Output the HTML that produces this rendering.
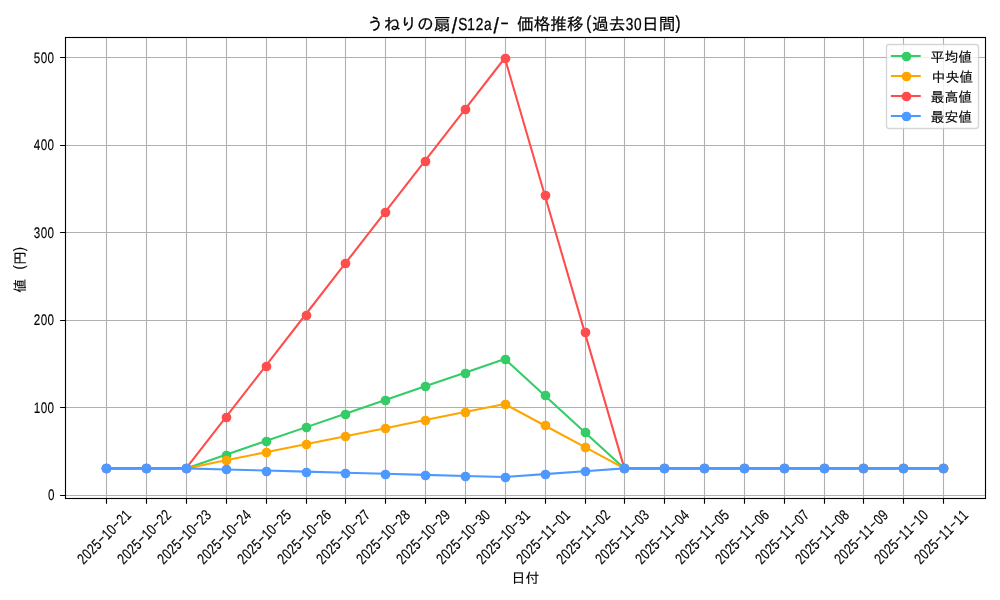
<!DOCTYPE html>
<html lang="ja"><head><meta charset="utf-8"><title>うねりの扇/S12a/- 価格推移</title>
<style>html,body{margin:0;padding:0;background:#fff;overflow:hidden}svg{display:block}text{font-family:"Liberation Sans", "IPAGothic", sans-serif;fill:#000;white-space:pre}.c{stroke:#000;stroke-width:.12px}.t .c{stroke-width:.25px}.l{stroke:#000;stroke-width:.12px}.t .l{stroke-width:.3px}</style></head><body>
<svg width="1000" height="600" viewBox="0 0 1000 600">
<rect width="1000" height="600" fill="#fff"/>
<path d="M106.5 37.5V498.5M146.5 37.5V498.5M186.5 37.5V498.5M226.5 37.5V498.5M266.5 37.5V498.5M306.5 37.5V498.5M345.5 37.5V498.5M385.5 37.5V498.5M425.5 37.5V498.5M465.5 37.5V498.5M505.5 37.5V498.5M545.5 37.5V498.5M585.5 37.5V498.5M624.5 37.5V498.5M664.5 37.5V498.5M704.5 37.5V498.5M744.5 37.5V498.5M784.5 37.5V498.5M824.5 37.5V498.5M863.5 37.5V498.5M903.5 37.5V498.5M943.5 37.5V498.5M65.5 57.5H985.5M65.5 145.5H985.5M65.5 232.5H985.5M65.5 320.5H985.5M65.5 407.5H985.5M65.5 495.5H985.5" fill="none" stroke="#b0b0b0" stroke-width="1.11"/>
<path d="M106.5 499.0v4.86M146.5 499.0v4.86M186.5 499.0v4.86M226.5 499.0v4.86M266.5 499.0v4.86M306.5 499.0v4.86M345.5 499.0v4.86M385.5 499.0v4.86M425.5 499.0v4.86M465.5 499.0v4.86M505.5 499.0v4.86M545.5 499.0v4.86M585.5 499.0v4.86M624.5 499.0v4.86M664.5 499.0v4.86M704.5 499.0v4.86M744.5 499.0v4.86M784.5 499.0v4.86M824.5 499.0v4.86M863.5 499.0v4.86M903.5 499.0v4.86M943.5 499.0v4.86M65.0 57.5h-4.86M65.0 145.5h-4.86M65.0 232.5h-4.86M65.0 320.5h-4.86M65.0 407.5h-4.86M65.0 495.5h-4.86" fill="none" stroke="#000" stroke-width="1.11"/>
<g fill="#33cc66" stroke="#33cc66">
<polyline points="106.38,468.40 146.23,468.40 186.07,468.40 225.92,454.72 265.76,441.05 305.61,427.38 345.45,413.70 385.30,400.02 425.14,386.35 464.99,372.68 504.84,359.00 544.68,395.47 584.53,431.93 624.37,468.40 664.22,468.40 704.06,468.40 743.91,468.40 783.76,468.40 823.60,468.40 863.45,468.40 903.29,468.40 943.14,468.40" fill="none" stroke-width="2.08" stroke-linejoin="round" stroke-linecap="square"/>
<circle cx="106.5" cy="468.5" r="4.17" stroke-width="1.39"/>
<circle cx="146.5" cy="468.5" r="4.17" stroke-width="1.39"/>
<circle cx="186.5" cy="468.5" r="4.17" stroke-width="1.39"/>
<circle cx="226.5" cy="455.5" r="4.17" stroke-width="1.39"/>
<circle cx="266.5" cy="441.5" r="4.17" stroke-width="1.39"/>
<circle cx="306.5" cy="427.5" r="4.17" stroke-width="1.39"/>
<circle cx="345.5" cy="414.5" r="4.17" stroke-width="1.39"/>
<circle cx="385.5" cy="400.5" r="4.17" stroke-width="1.39"/>
<circle cx="425.5" cy="386.5" r="4.17" stroke-width="1.39"/>
<circle cx="465.5" cy="373.5" r="4.17" stroke-width="1.39"/>
<circle cx="505.5" cy="359.5" r="4.17" stroke-width="1.39"/>
<circle cx="545.5" cy="395.5" r="4.17" stroke-width="1.39"/>
<circle cx="585.5" cy="432.5" r="4.17" stroke-width="1.39"/>
<circle cx="624.5" cy="468.5" r="4.17" stroke-width="1.39"/>
<circle cx="664.5" cy="468.5" r="4.17" stroke-width="1.39"/>
<circle cx="704.5" cy="468.5" r="4.17" stroke-width="1.39"/>
<circle cx="744.5" cy="468.5" r="4.17" stroke-width="1.39"/>
<circle cx="784.5" cy="468.5" r="4.17" stroke-width="1.39"/>
<circle cx="824.5" cy="468.5" r="4.17" stroke-width="1.39"/>
<circle cx="863.5" cy="468.5" r="4.17" stroke-width="1.39"/>
<circle cx="903.5" cy="468.5" r="4.17" stroke-width="1.39"/>
<circle cx="943.5" cy="468.5" r="4.17" stroke-width="1.39"/>
</g>
<g fill="#ffa500" stroke="#ffa500">
<polyline points="106.38,468.40 146.23,468.40 186.07,468.40 225.92,460.35 265.76,452.30 305.61,444.25 345.45,436.20 385.30,428.15 425.14,420.10 464.99,412.05 504.84,404.00 544.68,425.47 584.53,446.93 624.37,468.40 664.22,468.40 704.06,468.40 743.91,468.40 783.76,468.40 823.60,468.40 863.45,468.40 903.29,468.40 943.14,468.40" fill="none" stroke-width="2.08" stroke-linejoin="round" stroke-linecap="square"/>
<circle cx="106.5" cy="468.5" r="4.17" stroke-width="1.39"/>
<circle cx="146.5" cy="468.5" r="4.17" stroke-width="1.39"/>
<circle cx="186.5" cy="468.5" r="4.17" stroke-width="1.39"/>
<circle cx="226.5" cy="460.5" r="4.17" stroke-width="1.39"/>
<circle cx="266.5" cy="452.5" r="4.17" stroke-width="1.39"/>
<circle cx="306.5" cy="444.5" r="4.17" stroke-width="1.39"/>
<circle cx="345.5" cy="436.5" r="4.17" stroke-width="1.39"/>
<circle cx="385.5" cy="428.5" r="4.17" stroke-width="1.39"/>
<circle cx="425.5" cy="420.5" r="4.17" stroke-width="1.39"/>
<circle cx="465.5" cy="412.5" r="4.17" stroke-width="1.39"/>
<circle cx="505.5" cy="404.5" r="4.17" stroke-width="1.39"/>
<circle cx="545.5" cy="425.5" r="4.17" stroke-width="1.39"/>
<circle cx="585.5" cy="447.5" r="4.17" stroke-width="1.39"/>
<circle cx="624.5" cy="468.5" r="4.17" stroke-width="1.39"/>
<circle cx="664.5" cy="468.5" r="4.17" stroke-width="1.39"/>
<circle cx="704.5" cy="468.5" r="4.17" stroke-width="1.39"/>
<circle cx="744.5" cy="468.5" r="4.17" stroke-width="1.39"/>
<circle cx="784.5" cy="468.5" r="4.17" stroke-width="1.39"/>
<circle cx="824.5" cy="468.5" r="4.17" stroke-width="1.39"/>
<circle cx="863.5" cy="468.5" r="4.17" stroke-width="1.39"/>
<circle cx="903.5" cy="468.5" r="4.17" stroke-width="1.39"/>
<circle cx="943.5" cy="468.5" r="4.17" stroke-width="1.39"/>
</g>
<g fill="#ff4d4d" stroke="#ff4d4d">
<polyline points="106.38,468.40 146.23,468.40 186.07,468.40 225.92,417.10 265.76,365.80 305.61,314.50 345.45,263.20 385.30,211.90 425.14,160.60 464.99,109.30 504.84,58.00 544.68,194.80 584.53,331.60 624.37,468.40 664.22,468.40 704.06,468.40 743.91,468.40 783.76,468.40 823.60,468.40 863.45,468.40 903.29,468.40 943.14,468.40" fill="none" stroke-width="2.08" stroke-linejoin="round" stroke-linecap="square"/>
<circle cx="106.5" cy="468.5" r="4.17" stroke-width="1.39"/>
<circle cx="146.5" cy="468.5" r="4.17" stroke-width="1.39"/>
<circle cx="186.5" cy="468.5" r="4.17" stroke-width="1.39"/>
<circle cx="226.5" cy="417.5" r="4.17" stroke-width="1.39"/>
<circle cx="266.5" cy="366.5" r="4.17" stroke-width="1.39"/>
<circle cx="306.5" cy="315.5" r="4.17" stroke-width="1.39"/>
<circle cx="345.5" cy="263.5" r="4.17" stroke-width="1.39"/>
<circle cx="385.5" cy="212.5" r="4.17" stroke-width="1.39"/>
<circle cx="425.5" cy="161.5" r="4.17" stroke-width="1.39"/>
<circle cx="465.5" cy="109.5" r="4.17" stroke-width="1.39"/>
<circle cx="505.5" cy="58.5" r="4.17" stroke-width="1.39"/>
<circle cx="545.5" cy="195.5" r="4.17" stroke-width="1.39"/>
<circle cx="585.5" cy="332.5" r="4.17" stroke-width="1.39"/>
<circle cx="624.5" cy="468.5" r="4.17" stroke-width="1.39"/>
<circle cx="664.5" cy="468.5" r="4.17" stroke-width="1.39"/>
<circle cx="704.5" cy="468.5" r="4.17" stroke-width="1.39"/>
<circle cx="744.5" cy="468.5" r="4.17" stroke-width="1.39"/>
<circle cx="784.5" cy="468.5" r="4.17" stroke-width="1.39"/>
<circle cx="824.5" cy="468.5" r="4.17" stroke-width="1.39"/>
<circle cx="863.5" cy="468.5" r="4.17" stroke-width="1.39"/>
<circle cx="903.5" cy="468.5" r="4.17" stroke-width="1.39"/>
<circle cx="943.5" cy="468.5" r="4.17" stroke-width="1.39"/>
</g>
<g fill="#4d99ff" stroke="#4d99ff">
<polyline points="106.38,468.40 146.23,468.40 186.07,468.40 225.92,469.47 265.76,470.55 305.61,471.62 345.45,472.70 385.30,473.77 425.14,474.85 464.99,475.93 504.84,477.00 544.68,474.13 584.53,471.27 624.37,468.40 664.22,468.40 704.06,468.40 743.91,468.40 783.76,468.40 823.60,468.40 863.45,468.40 903.29,468.40 943.14,468.40" fill="none" stroke-width="2.08" stroke-linejoin="round" stroke-linecap="square"/>
<circle cx="106.5" cy="468.5" r="4.17" stroke-width="1.39"/>
<circle cx="146.5" cy="468.5" r="4.17" stroke-width="1.39"/>
<circle cx="186.5" cy="468.5" r="4.17" stroke-width="1.39"/>
<circle cx="226.5" cy="469.5" r="4.17" stroke-width="1.39"/>
<circle cx="266.5" cy="471.5" r="4.17" stroke-width="1.39"/>
<circle cx="306.5" cy="472.5" r="4.17" stroke-width="1.39"/>
<circle cx="345.5" cy="473.5" r="4.17" stroke-width="1.39"/>
<circle cx="385.5" cy="474.5" r="4.17" stroke-width="1.39"/>
<circle cx="425.5" cy="475.5" r="4.17" stroke-width="1.39"/>
<circle cx="465.5" cy="476.5" r="4.17" stroke-width="1.39"/>
<circle cx="505.5" cy="477.5" r="4.17" stroke-width="1.39"/>
<circle cx="545.5" cy="474.5" r="4.17" stroke-width="1.39"/>
<circle cx="585.5" cy="471.5" r="4.17" stroke-width="1.39"/>
<circle cx="624.5" cy="468.5" r="4.17" stroke-width="1.39"/>
<circle cx="664.5" cy="468.5" r="4.17" stroke-width="1.39"/>
<circle cx="704.5" cy="468.5" r="4.17" stroke-width="1.39"/>
<circle cx="744.5" cy="468.5" r="4.17" stroke-width="1.39"/>
<circle cx="784.5" cy="468.5" r="4.17" stroke-width="1.39"/>
<circle cx="824.5" cy="468.5" r="4.17" stroke-width="1.39"/>
<circle cx="863.5" cy="468.5" r="4.17" stroke-width="1.39"/>
<circle cx="903.5" cy="468.5" r="4.17" stroke-width="1.39"/>
<circle cx="943.5" cy="468.5" r="4.17" stroke-width="1.39"/>
</g>
<rect x="65.5" y="37.5" width="920.0" height="461.0" fill="none" stroke="#000" stroke-width="1.11"/>
<text class="l" text-anchor="middle" font-size="13.889" transform="translate(33.47 62.80) rotate(0.03) scale(0.840 1.100)" x="4.13 12.40 20.67">500</text>
<text class="l" text-anchor="middle" font-size="13.889" transform="translate(33.47 149.80) rotate(0.03) scale(0.840 1.100)" x="4.13 12.40 20.67">400</text>
<text class="l" text-anchor="middle" font-size="13.889" transform="translate(33.47 237.80) rotate(0.03) scale(0.840 1.100)" x="4.13 12.40 20.67">300</text>
<text class="l" text-anchor="middle" font-size="13.889" transform="translate(33.47 324.80) rotate(0.03) scale(0.840 1.100)" x="4.13 12.40 20.67">200</text>
<text class="l" text-anchor="middle" font-size="13.889" transform="translate(33.47 412.80) rotate(0.03) scale(0.840 1.100)" x="4.13 12.40 20.67">100</text>
<text class="l" text-anchor="middle" font-size="13.889" transform="translate(47.86 499.80) rotate(0.03) scale(0.840 1.100)" x="4.13">0</text>
<g transform="translate(104.1 536.8) rotate(-45)"><text class="l" text-anchor="middle" font-size="13.889" transform="translate(-34.72 5.20) rotate(0.03) scale(0.840 1.100)" x="4.13 12.40 20.67 28.94">2025</text><text class="l" text-anchor="middle" font-size="13.889" transform="translate(-6.94 3.26) rotate(0.03) scale(1.596 1.000)" x="2.18">-</text><text class="l" text-anchor="middle" font-size="13.889" transform="translate(-0.00 5.20) rotate(0.03) scale(0.840 1.100)" x="4.13 12.40">10</text><text class="l" text-anchor="middle" font-size="13.889" transform="translate(13.89 3.26) rotate(0.03) scale(1.596 1.000)" x="2.18">-</text><text class="l" text-anchor="middle" font-size="13.889" transform="translate(20.83 5.20) rotate(0.03) scale(0.840 1.100)" x="4.13 12.40">21</text></g>
<g transform="translate(144.1 536.8) rotate(-45)"><text class="l" text-anchor="middle" font-size="13.889" transform="translate(-34.72 5.20) rotate(0.03) scale(0.840 1.100)" x="4.13 12.40 20.67 28.94">2025</text><text class="l" text-anchor="middle" font-size="13.889" transform="translate(-6.94 3.26) rotate(0.03) scale(1.596 1.000)" x="2.18">-</text><text class="l" text-anchor="middle" font-size="13.889" transform="translate(-0.00 5.20) rotate(0.03) scale(0.840 1.100)" x="4.13 12.40">10</text><text class="l" text-anchor="middle" font-size="13.889" transform="translate(13.89 3.26) rotate(0.03) scale(1.596 1.000)" x="2.18">-</text><text class="l" text-anchor="middle" font-size="13.889" transform="translate(20.83 5.20) rotate(0.03) scale(0.840 1.100)" x="4.13 12.40">22</text></g>
<g transform="translate(184.1 536.8) rotate(-45)"><text class="l" text-anchor="middle" font-size="13.889" transform="translate(-34.72 5.20) rotate(0.03) scale(0.840 1.100)" x="4.13 12.40 20.67 28.94">2025</text><text class="l" text-anchor="middle" font-size="13.889" transform="translate(-6.94 3.26) rotate(0.03) scale(1.596 1.000)" x="2.18">-</text><text class="l" text-anchor="middle" font-size="13.889" transform="translate(-0.00 5.20) rotate(0.03) scale(0.840 1.100)" x="4.13 12.40">10</text><text class="l" text-anchor="middle" font-size="13.889" transform="translate(13.89 3.26) rotate(0.03) scale(1.596 1.000)" x="2.18">-</text><text class="l" text-anchor="middle" font-size="13.889" transform="translate(20.83 5.20) rotate(0.03) scale(0.840 1.100)" x="4.13 12.40">23</text></g>
<g transform="translate(224.1 536.8) rotate(-45)"><text class="l" text-anchor="middle" font-size="13.889" transform="translate(-34.72 5.20) rotate(0.03) scale(0.840 1.100)" x="4.13 12.40 20.67 28.94">2025</text><text class="l" text-anchor="middle" font-size="13.889" transform="translate(-6.94 3.26) rotate(0.03) scale(1.596 1.000)" x="2.18">-</text><text class="l" text-anchor="middle" font-size="13.889" transform="translate(-0.00 5.20) rotate(0.03) scale(0.840 1.100)" x="4.13 12.40">10</text><text class="l" text-anchor="middle" font-size="13.889" transform="translate(13.89 3.26) rotate(0.03) scale(1.596 1.000)" x="2.18">-</text><text class="l" text-anchor="middle" font-size="13.889" transform="translate(20.83 5.20) rotate(0.03) scale(0.840 1.100)" x="4.13 12.40">24</text></g>
<g transform="translate(264.1 536.8) rotate(-45)"><text class="l" text-anchor="middle" font-size="13.889" transform="translate(-34.72 5.20) rotate(0.03) scale(0.840 1.100)" x="4.13 12.40 20.67 28.94">2025</text><text class="l" text-anchor="middle" font-size="13.889" transform="translate(-6.94 3.26) rotate(0.03) scale(1.596 1.000)" x="2.18">-</text><text class="l" text-anchor="middle" font-size="13.889" transform="translate(-0.00 5.20) rotate(0.03) scale(0.840 1.100)" x="4.13 12.40">10</text><text class="l" text-anchor="middle" font-size="13.889" transform="translate(13.89 3.26) rotate(0.03) scale(1.596 1.000)" x="2.18">-</text><text class="l" text-anchor="middle" font-size="13.889" transform="translate(20.83 5.20) rotate(0.03) scale(0.840 1.100)" x="4.13 12.40">25</text></g>
<g transform="translate(304.1 536.8) rotate(-45)"><text class="l" text-anchor="middle" font-size="13.889" transform="translate(-34.72 5.20) rotate(0.03) scale(0.840 1.100)" x="4.13 12.40 20.67 28.94">2025</text><text class="l" text-anchor="middle" font-size="13.889" transform="translate(-6.94 3.26) rotate(0.03) scale(1.596 1.000)" x="2.18">-</text><text class="l" text-anchor="middle" font-size="13.889" transform="translate(-0.00 5.20) rotate(0.03) scale(0.840 1.100)" x="4.13 12.40">10</text><text class="l" text-anchor="middle" font-size="13.889" transform="translate(13.89 3.26) rotate(0.03) scale(1.596 1.000)" x="2.18">-</text><text class="l" text-anchor="middle" font-size="13.889" transform="translate(20.83 5.20) rotate(0.03) scale(0.840 1.100)" x="4.13 12.40">26</text></g>
<g transform="translate(343.1 536.8) rotate(-45)"><text class="l" text-anchor="middle" font-size="13.889" transform="translate(-34.72 5.20) rotate(0.03) scale(0.840 1.100)" x="4.13 12.40 20.67 28.94">2025</text><text class="l" text-anchor="middle" font-size="13.889" transform="translate(-6.94 3.26) rotate(0.03) scale(1.596 1.000)" x="2.18">-</text><text class="l" text-anchor="middle" font-size="13.889" transform="translate(-0.00 5.20) rotate(0.03) scale(0.840 1.100)" x="4.13 12.40">10</text><text class="l" text-anchor="middle" font-size="13.889" transform="translate(13.89 3.26) rotate(0.03) scale(1.596 1.000)" x="2.18">-</text><text class="l" text-anchor="middle" font-size="13.889" transform="translate(20.83 5.20) rotate(0.03) scale(0.840 1.100)" x="4.13 12.40">27</text></g>
<g transform="translate(383.1 536.8) rotate(-45)"><text class="l" text-anchor="middle" font-size="13.889" transform="translate(-34.72 5.20) rotate(0.03) scale(0.840 1.100)" x="4.13 12.40 20.67 28.94">2025</text><text class="l" text-anchor="middle" font-size="13.889" transform="translate(-6.94 3.26) rotate(0.03) scale(1.596 1.000)" x="2.18">-</text><text class="l" text-anchor="middle" font-size="13.889" transform="translate(-0.00 5.20) rotate(0.03) scale(0.840 1.100)" x="4.13 12.40">10</text><text class="l" text-anchor="middle" font-size="13.889" transform="translate(13.89 3.26) rotate(0.03) scale(1.596 1.000)" x="2.18">-</text><text class="l" text-anchor="middle" font-size="13.889" transform="translate(20.83 5.20) rotate(0.03) scale(0.840 1.100)" x="4.13 12.40">28</text></g>
<g transform="translate(423.1 536.8) rotate(-45)"><text class="l" text-anchor="middle" font-size="13.889" transform="translate(-34.72 5.20) rotate(0.03) scale(0.840 1.100)" x="4.13 12.40 20.67 28.94">2025</text><text class="l" text-anchor="middle" font-size="13.889" transform="translate(-6.94 3.26) rotate(0.03) scale(1.596 1.000)" x="2.18">-</text><text class="l" text-anchor="middle" font-size="13.889" transform="translate(-0.00 5.20) rotate(0.03) scale(0.840 1.100)" x="4.13 12.40">10</text><text class="l" text-anchor="middle" font-size="13.889" transform="translate(13.89 3.26) rotate(0.03) scale(1.596 1.000)" x="2.18">-</text><text class="l" text-anchor="middle" font-size="13.889" transform="translate(20.83 5.20) rotate(0.03) scale(0.840 1.100)" x="4.13 12.40">29</text></g>
<g transform="translate(463.1 536.8) rotate(-45)"><text class="l" text-anchor="middle" font-size="13.889" transform="translate(-34.72 5.20) rotate(0.03) scale(0.840 1.100)" x="4.13 12.40 20.67 28.94">2025</text><text class="l" text-anchor="middle" font-size="13.889" transform="translate(-6.94 3.26) rotate(0.03) scale(1.596 1.000)" x="2.18">-</text><text class="l" text-anchor="middle" font-size="13.889" transform="translate(-0.00 5.20) rotate(0.03) scale(0.840 1.100)" x="4.13 12.40">10</text><text class="l" text-anchor="middle" font-size="13.889" transform="translate(13.89 3.26) rotate(0.03) scale(1.596 1.000)" x="2.18">-</text><text class="l" text-anchor="middle" font-size="13.889" transform="translate(20.83 5.20) rotate(0.03) scale(0.840 1.100)" x="4.13 12.40">30</text></g>
<g transform="translate(503.1 536.8) rotate(-45)"><text class="l" text-anchor="middle" font-size="13.889" transform="translate(-34.72 5.20) rotate(0.03) scale(0.840 1.100)" x="4.13 12.40 20.67 28.94">2025</text><text class="l" text-anchor="middle" font-size="13.889" transform="translate(-6.94 3.26) rotate(0.03) scale(1.596 1.000)" x="2.18">-</text><text class="l" text-anchor="middle" font-size="13.889" transform="translate(-0.00 5.20) rotate(0.03) scale(0.840 1.100)" x="4.13 12.40">10</text><text class="l" text-anchor="middle" font-size="13.889" transform="translate(13.89 3.26) rotate(0.03) scale(1.596 1.000)" x="2.18">-</text><text class="l" text-anchor="middle" font-size="13.889" transform="translate(20.83 5.20) rotate(0.03) scale(0.840 1.100)" x="4.13 12.40">31</text></g>
<g transform="translate(543.1 536.8) rotate(-45)"><text class="l" text-anchor="middle" font-size="13.889" transform="translate(-34.72 5.20) rotate(0.03) scale(0.840 1.100)" x="4.13 12.40 20.67 28.94">2025</text><text class="l" text-anchor="middle" font-size="13.889" transform="translate(-6.94 3.26) rotate(0.03) scale(1.596 1.000)" x="2.18">-</text><text class="l" text-anchor="middle" font-size="13.889" transform="translate(-0.00 5.20) rotate(0.03) scale(0.840 1.100)" x="4.13 12.40">11</text><text class="l" text-anchor="middle" font-size="13.889" transform="translate(13.89 3.26) rotate(0.03) scale(1.596 1.000)" x="2.18">-</text><text class="l" text-anchor="middle" font-size="13.889" transform="translate(20.83 5.20) rotate(0.03) scale(0.840 1.100)" x="4.13 12.40">01</text></g>
<g transform="translate(583.1 536.8) rotate(-45)"><text class="l" text-anchor="middle" font-size="13.889" transform="translate(-34.72 5.20) rotate(0.03) scale(0.840 1.100)" x="4.13 12.40 20.67 28.94">2025</text><text class="l" text-anchor="middle" font-size="13.889" transform="translate(-6.94 3.26) rotate(0.03) scale(1.596 1.000)" x="2.18">-</text><text class="l" text-anchor="middle" font-size="13.889" transform="translate(-0.00 5.20) rotate(0.03) scale(0.840 1.100)" x="4.13 12.40">11</text><text class="l" text-anchor="middle" font-size="13.889" transform="translate(13.89 3.26) rotate(0.03) scale(1.596 1.000)" x="2.18">-</text><text class="l" text-anchor="middle" font-size="13.889" transform="translate(20.83 5.20) rotate(0.03) scale(0.840 1.100)" x="4.13 12.40">02</text></g>
<g transform="translate(622.1 536.8) rotate(-45)"><text class="l" text-anchor="middle" font-size="13.889" transform="translate(-34.72 5.20) rotate(0.03) scale(0.840 1.100)" x="4.13 12.40 20.67 28.94">2025</text><text class="l" text-anchor="middle" font-size="13.889" transform="translate(-6.94 3.26) rotate(0.03) scale(1.596 1.000)" x="2.18">-</text><text class="l" text-anchor="middle" font-size="13.889" transform="translate(-0.00 5.20) rotate(0.03) scale(0.840 1.100)" x="4.13 12.40">11</text><text class="l" text-anchor="middle" font-size="13.889" transform="translate(13.89 3.26) rotate(0.03) scale(1.596 1.000)" x="2.18">-</text><text class="l" text-anchor="middle" font-size="13.889" transform="translate(20.83 5.20) rotate(0.03) scale(0.840 1.100)" x="4.13 12.40">03</text></g>
<g transform="translate(662.1 536.8) rotate(-45)"><text class="l" text-anchor="middle" font-size="13.889" transform="translate(-34.72 5.20) rotate(0.03) scale(0.840 1.100)" x="4.13 12.40 20.67 28.94">2025</text><text class="l" text-anchor="middle" font-size="13.889" transform="translate(-6.94 3.26) rotate(0.03) scale(1.596 1.000)" x="2.18">-</text><text class="l" text-anchor="middle" font-size="13.889" transform="translate(-0.00 5.20) rotate(0.03) scale(0.840 1.100)" x="4.13 12.40">11</text><text class="l" text-anchor="middle" font-size="13.889" transform="translate(13.89 3.26) rotate(0.03) scale(1.596 1.000)" x="2.18">-</text><text class="l" text-anchor="middle" font-size="13.889" transform="translate(20.83 5.20) rotate(0.03) scale(0.840 1.100)" x="4.13 12.40">04</text></g>
<g transform="translate(702.1 536.8) rotate(-45)"><text class="l" text-anchor="middle" font-size="13.889" transform="translate(-34.72 5.20) rotate(0.03) scale(0.840 1.100)" x="4.13 12.40 20.67 28.94">2025</text><text class="l" text-anchor="middle" font-size="13.889" transform="translate(-6.94 3.26) rotate(0.03) scale(1.596 1.000)" x="2.18">-</text><text class="l" text-anchor="middle" font-size="13.889" transform="translate(-0.00 5.20) rotate(0.03) scale(0.840 1.100)" x="4.13 12.40">11</text><text class="l" text-anchor="middle" font-size="13.889" transform="translate(13.89 3.26) rotate(0.03) scale(1.596 1.000)" x="2.18">-</text><text class="l" text-anchor="middle" font-size="13.889" transform="translate(20.83 5.20) rotate(0.03) scale(0.840 1.100)" x="4.13 12.40">05</text></g>
<g transform="translate(742.1 536.8) rotate(-45)"><text class="l" text-anchor="middle" font-size="13.889" transform="translate(-34.72 5.20) rotate(0.03) scale(0.840 1.100)" x="4.13 12.40 20.67 28.94">2025</text><text class="l" text-anchor="middle" font-size="13.889" transform="translate(-6.94 3.26) rotate(0.03) scale(1.596 1.000)" x="2.18">-</text><text class="l" text-anchor="middle" font-size="13.889" transform="translate(-0.00 5.20) rotate(0.03) scale(0.840 1.100)" x="4.13 12.40">11</text><text class="l" text-anchor="middle" font-size="13.889" transform="translate(13.89 3.26) rotate(0.03) scale(1.596 1.000)" x="2.18">-</text><text class="l" text-anchor="middle" font-size="13.889" transform="translate(20.83 5.20) rotate(0.03) scale(0.840 1.100)" x="4.13 12.40">06</text></g>
<g transform="translate(782.1 536.8) rotate(-45)"><text class="l" text-anchor="middle" font-size="13.889" transform="translate(-34.72 5.20) rotate(0.03) scale(0.840 1.100)" x="4.13 12.40 20.67 28.94">2025</text><text class="l" text-anchor="middle" font-size="13.889" transform="translate(-6.94 3.26) rotate(0.03) scale(1.596 1.000)" x="2.18">-</text><text class="l" text-anchor="middle" font-size="13.889" transform="translate(-0.00 5.20) rotate(0.03) scale(0.840 1.100)" x="4.13 12.40">11</text><text class="l" text-anchor="middle" font-size="13.889" transform="translate(13.89 3.26) rotate(0.03) scale(1.596 1.000)" x="2.18">-</text><text class="l" text-anchor="middle" font-size="13.889" transform="translate(20.83 5.20) rotate(0.03) scale(0.840 1.100)" x="4.13 12.40">07</text></g>
<g transform="translate(822.1 536.8) rotate(-45)"><text class="l" text-anchor="middle" font-size="13.889" transform="translate(-34.72 5.20) rotate(0.03) scale(0.840 1.100)" x="4.13 12.40 20.67 28.94">2025</text><text class="l" text-anchor="middle" font-size="13.889" transform="translate(-6.94 3.26) rotate(0.03) scale(1.596 1.000)" x="2.18">-</text><text class="l" text-anchor="middle" font-size="13.889" transform="translate(-0.00 5.20) rotate(0.03) scale(0.840 1.100)" x="4.13 12.40">11</text><text class="l" text-anchor="middle" font-size="13.889" transform="translate(13.89 3.26) rotate(0.03) scale(1.596 1.000)" x="2.18">-</text><text class="l" text-anchor="middle" font-size="13.889" transform="translate(20.83 5.20) rotate(0.03) scale(0.840 1.100)" x="4.13 12.40">08</text></g>
<g transform="translate(861.1 536.8) rotate(-45)"><text class="l" text-anchor="middle" font-size="13.889" transform="translate(-34.72 5.20) rotate(0.03) scale(0.840 1.100)" x="4.13 12.40 20.67 28.94">2025</text><text class="l" text-anchor="middle" font-size="13.889" transform="translate(-6.94 3.26) rotate(0.03) scale(1.596 1.000)" x="2.18">-</text><text class="l" text-anchor="middle" font-size="13.889" transform="translate(-0.00 5.20) rotate(0.03) scale(0.840 1.100)" x="4.13 12.40">11</text><text class="l" text-anchor="middle" font-size="13.889" transform="translate(13.89 3.26) rotate(0.03) scale(1.596 1.000)" x="2.18">-</text><text class="l" text-anchor="middle" font-size="13.889" transform="translate(20.83 5.20) rotate(0.03) scale(0.840 1.100)" x="4.13 12.40">09</text></g>
<g transform="translate(901.1 536.8) rotate(-45)"><text class="l" text-anchor="middle" font-size="13.889" transform="translate(-34.72 5.20) rotate(0.03) scale(0.840 1.100)" x="4.13 12.40 20.67 28.94">2025</text><text class="l" text-anchor="middle" font-size="13.889" transform="translate(-6.94 3.26) rotate(0.03) scale(1.596 1.000)" x="2.18">-</text><text class="l" text-anchor="middle" font-size="13.889" transform="translate(-0.00 5.20) rotate(0.03) scale(0.840 1.100)" x="4.13 12.40">11</text><text class="l" text-anchor="middle" font-size="13.889" transform="translate(13.89 3.26) rotate(0.03) scale(1.596 1.000)" x="2.18">-</text><text class="l" text-anchor="middle" font-size="13.889" transform="translate(20.83 5.20) rotate(0.03) scale(0.840 1.100)" x="4.13 12.40">10</text></g>
<g transform="translate(941.1 536.8) rotate(-45)"><text class="l" text-anchor="middle" font-size="13.889" transform="translate(-34.72 5.20) rotate(0.03) scale(0.840 1.100)" x="4.13 12.40 20.67 28.94">2025</text><text class="l" text-anchor="middle" font-size="13.889" transform="translate(-6.94 3.26) rotate(0.03) scale(1.596 1.000)" x="2.18">-</text><text class="l" text-anchor="middle" font-size="13.889" transform="translate(-0.00 5.20) rotate(0.03) scale(0.840 1.100)" x="4.13 12.40">11</text><text class="l" text-anchor="middle" font-size="13.889" transform="translate(13.89 3.26) rotate(0.03) scale(1.596 1.000)" x="2.18">-</text><text class="l" text-anchor="middle" font-size="13.889" transform="translate(20.83 5.20) rotate(0.03) scale(0.840 1.100)" x="4.13 12.40">11</text></g>
<text class="c" x="525.4" y="583.4" font-size="13.889" text-anchor="middle">日付</text>
<g transform="translate(25.3 268.5) rotate(-90)"><text class="c" font-size="13.889" x="-24.31" y="0.00">値</text><text class="l" text-anchor="middle" font-size="13.889" transform="translate(-10.42 0.00) rotate(0.03) scale(0.900 1.000)" x="3.86"> </text><text class="l" text-anchor="middle" font-size="13.889" transform="translate(-3.47 -0.97) rotate(0.03) scale(0.900 1.080)" x="4.97">(</text><text class="c" font-size="13.889" x="3.47" y="0.00">円</text><text class="l" text-anchor="middle" font-size="13.889" transform="translate(17.36 -0.97) rotate(0.03) scale(0.900 1.080)" x="2.08">)</text></g>
<g class="t"><text class="c" font-size="16.667" x="367.01" y="29.60">うねりの扇</text><text class="l" text-anchor="middle" font-size="16.667" transform="translate(450.35 32.90) rotate(0.03) scale(1.150 1.300)" x="3.62">/</text><text class="l" text-anchor="middle" font-size="16.667" transform="translate(458.68 30.10) rotate(0.03) scale(0.820 1.040)" x="5.08 15.24 25.41 35.57">S12a</text><text class="l" text-anchor="middle" font-size="16.667" transform="translate(492.02 32.90) rotate(0.03) scale(1.150 1.300)" x="3.62">/</text><text class="l" text-anchor="middle" font-size="16.667" transform="translate(500.35 27.77) rotate(0.03) scale(1.558 1.000)" x="2.67">-</text><text class="l" text-anchor="middle" font-size="16.667" transform="translate(508.68 30.10) rotate(0.03) scale(0.820 1.040)" x="5.08"> </text><text class="c" font-size="16.667" x="517.02" y="29.60">価格推移</text><text class="l" text-anchor="middle" font-size="16.667" transform="translate(583.68 28.93) rotate(0.03) scale(0.900 1.123)" x="5.74">(</text><text class="c" font-size="16.667" x="592.02" y="29.60">過去</text><text class="l" text-anchor="middle" font-size="16.667" transform="translate(625.35 30.10) rotate(0.03) scale(0.820 1.040)" x="5.08 15.24">30</text><text class="c" font-size="16.667" x="642.02" y="29.60">日間</text><text class="l" text-anchor="middle" font-size="16.667" transform="translate(675.35 28.93) rotate(0.03) scale(0.900 1.123)" x="2.85">)</text></g>
<rect x="886.5" y="44.5" width="92" height="84" rx="2.8" ry="2.8" fill="#fff" fill-opacity="0.8" stroke="#ccc" stroke-opacity="0.8" stroke-width="1.39"/>
<g fill="#33cc66" stroke="#33cc66"><path d="M891.9 56.0H919.7" stroke-width="2.08" stroke-linecap="square"/><circle cx="906.5" cy="56.5" r="4.17" stroke-width="1.39"/></g>
<text class="c" x="930.5" y="61.6" font-size="13.889">平均値</text>
<g fill="#ffa500" stroke="#ffa500"><path d="M891.9 76.0H919.7" stroke-width="2.08" stroke-linecap="square"/><circle cx="906.5" cy="76.5" r="4.17" stroke-width="1.39"/></g>
<text class="c" x="931.5" y="81.6" font-size="13.889">中央値</text>
<g fill="#ff4d4d" stroke="#ff4d4d"><path d="M891.9 96.0H919.7" stroke-width="2.08" stroke-linecap="square"/><circle cx="906.5" cy="96.5" r="4.17" stroke-width="1.39"/></g>
<text class="c" x="930.5" y="101.6" font-size="13.889">最高値</text>
<g fill="#4d99ff" stroke="#4d99ff"><path d="M891.9 116.0H919.7" stroke-width="2.08" stroke-linecap="square"/><circle cx="906.5" cy="116.5" r="4.17" stroke-width="1.39"/></g>
<text class="c" x="930.5" y="121.6" font-size="13.889">最安値</text>
</svg></body></html>
